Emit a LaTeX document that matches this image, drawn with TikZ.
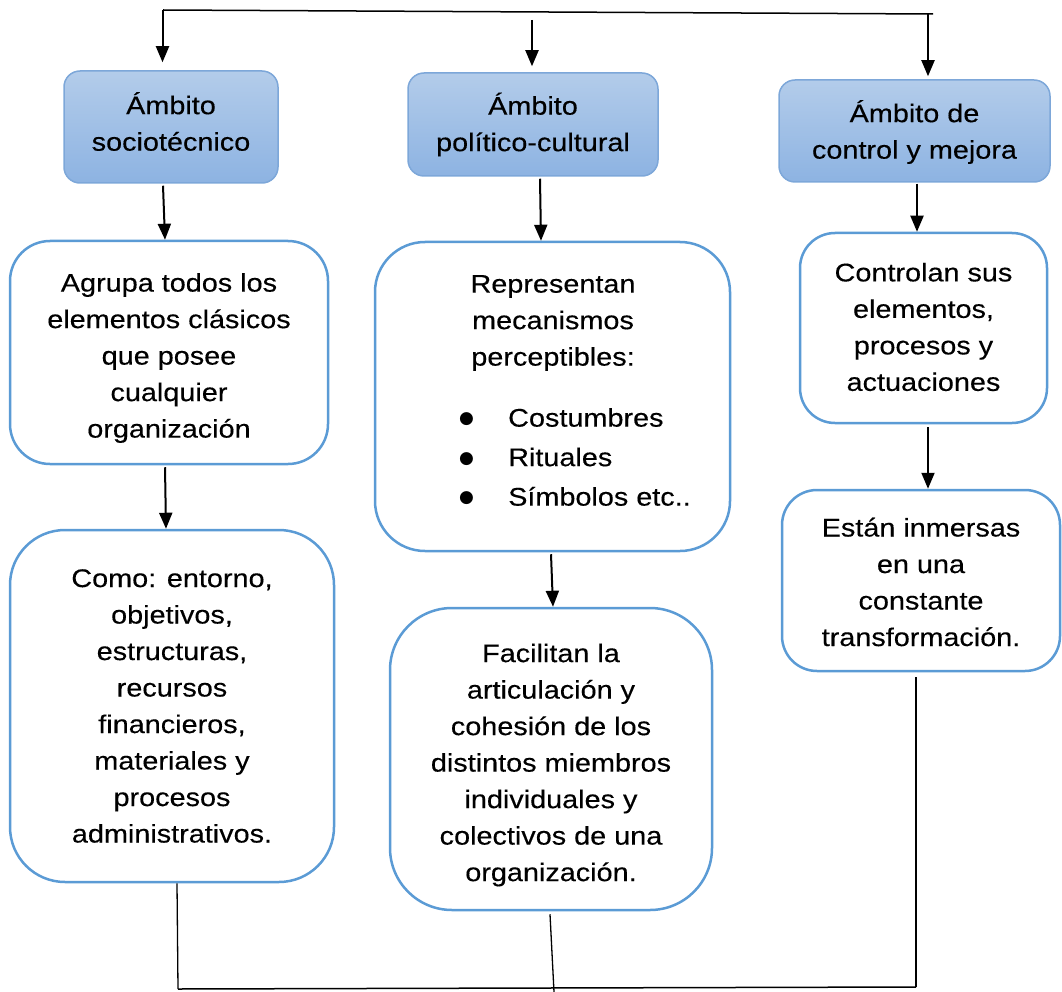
\documentclass[tikz,border=0pt]{standalone}
\usepackage{fontspec}
\setmainfont{Liberation Sans}[FakeStretch=1.13,FakeBold=0.3]
\newfontfamily\dv{DejaVu Sans}
\usetikzlibrary{arrows.meta}
\definecolor{hdtop}{HTML}{B3CCEA}
\definecolor{hdbot}{HTML}{8DB3E2}
\definecolor{hdline}{HTML}{7DA7D9}
\definecolor{bxline}{HTML}{5B9BD5}
\tikzset{
  hdr/.style={draw=hdline, line width=1.5pt, rounded corners=16pt, top color=hdtop, bottom color=hdbot, inner sep=0pt},
  bx/.style={draw=bxline, line width=2.5pt, fill=white, inner sep=0pt},
  txt/.style={align=center, inner sep=0pt},
  arr/.style={line width=2pt, -{Triangle[length=16pt,width=13pt]}},
  thin/.style={line width=1.3pt},
}
\newcommand{\bul}{\makebox[49pt][l]{\raisebox{3pt}{\dv\fontsize{17}{17}\selectfont ●}}}
\begin{document}
\begin{tikzpicture}[x=1pt,y=-1pt, every node/.style={font=\fontsize{25.5}{36.5}\selectfont}]
\useasboundingbox (0,0) rectangle (1062,992);
% headers
\node[hdr, minimum width=214pt, minimum height=112pt] (H1) at (171,127) {};
\node[txt] (H1t) at (171,121.5) {Ámbito\\sociotécnico};
\node[hdr, minimum width=250pt, minimum height=103pt] (H2) at (533,124.5) {};
\node[txt] (H2t) at (533,124.5) {Ámbito\\político-cultural};
\node[hdr, minimum width=271pt, minimum height=102pt] (H3) at (914.5,131) {};
\node[txt] (H3t) at (914.5,132) {Ámbito de\\control y mejora};
% boxes
\node[bx, rounded corners=40pt, minimum width=318pt, minimum height=223pt] (A1) at (169,352.5) {};
\node[txt] (A1t) at (169,358) {Agrupa todos los\\elementos clásicos\\que posee\\cualquier\\organización};
\node[bx, rounded corners=55pt, minimum width=324pt, minimum height=352pt] (A2) at (172,706) {};
\node[txt] (A2t) at (172,706) {Como: entorno,\\objetivos,\\estructuras,\\recursos\\financieros,\\materiales y\\procesos\\administrativos.};
\node[bx, rounded corners=50pt, minimum width=355pt, minimum height=309pt] (B1) at (552.5,396.5) {};
\node[txt] (B1t) at (553,323) {Representan\\mecanismos\\perceptibles:};
\node[txt, align=left, anchor=west, font=\fontsize{25.5}{39.5}\selectfont] (B1l) at (459,457) {\bul Costumbres\\\bul Rituales\\\bul Símbolos etc..};
\node[bx, rounded corners=62pt, minimum width=322pt, minimum height=302pt] (B2) at (551,759) {};
\node[txt] (B2t) at (551,765) {Facilitan la\\articulación y\\cohesión de los\\distintos miembros\\individuales y\\colectivos de una\\organización.};
\node[bx, rounded corners=35pt, minimum width=247pt, minimum height=190pt] (C1) at (923.5,328) {};
\node[txt] (C1t) at (923.5,327) {Controlan sus\\elementos,\\procesos y\\actuaciones};
\node[bx, rounded corners=35pt, minimum width=278pt, minimum height=181pt] (C2) at (921,580.5) {};
\node[txt] (C2t) at (921,582) {Están inmersas\\en una\\constante\\transformación.};
% top connectors
\coordinate (TL) at (163,10);
\coordinate (TR) at (933,14);
\coordinate (TM) at (532,20);
\draw[line width=1.5pt] (TL) -- (TR);
\draw[arr] ([xshift=-0.5pt]TL) -- ([xshift=-8.5pt,yshift=8pt]H1.north);
\draw[arr] (TM) -- ([xshift=-1pt,yshift=6pt]H2.north);
\draw[arr] ([xshift=-5pt]TR) -- ([xshift=13.5pt,yshift=3pt]H3.north);
% vertical arrows
\draw[arr] ([xshift=-8pt,yshift=-2pt]H1.south) -- ([xshift=-4pt]A1.north);
\draw[arr] ([xshift=7pt,yshift=-2pt]H2.south) -- ([xshift=-11.5pt]B1.north);
\draw[arr] ([xshift=2.5pt,yshift=-1pt]H3.south) -- ([xshift=-6.5pt]C1.north);
\draw[arr] ([xshift=-4pt,yshift=-2pt]A1.south) -- ([xshift=-6pt]A2.north);
\draw[arr] ([xshift=-1.5pt,yshift=-2pt]B1.south) -- ([xshift=2pt]B2.north);
\draw[arr] ([xshift=4.5pt,yshift=-3pt]C1.south) -- ([xshift=7pt]C2.north);
% bottom connectors
\coordinate (BL) at (178,989);
\coordinate (BM) at (554,988);
\coordinate (BR) at (916,987);
\draw[thin] ([xshift=5pt]A2.south) -- (BL);
\draw[thin] ([xshift=-1pt,yshift=-3pt]B2.south) -- ([yshift=-4pt]BM);
\draw[thin] ([xshift=-5pt,yshift=-5pt]C2.south) -- (BR);
\draw[line width=1.5pt] (BL) -- (BR);
\end{tikzpicture}
\end{document}
